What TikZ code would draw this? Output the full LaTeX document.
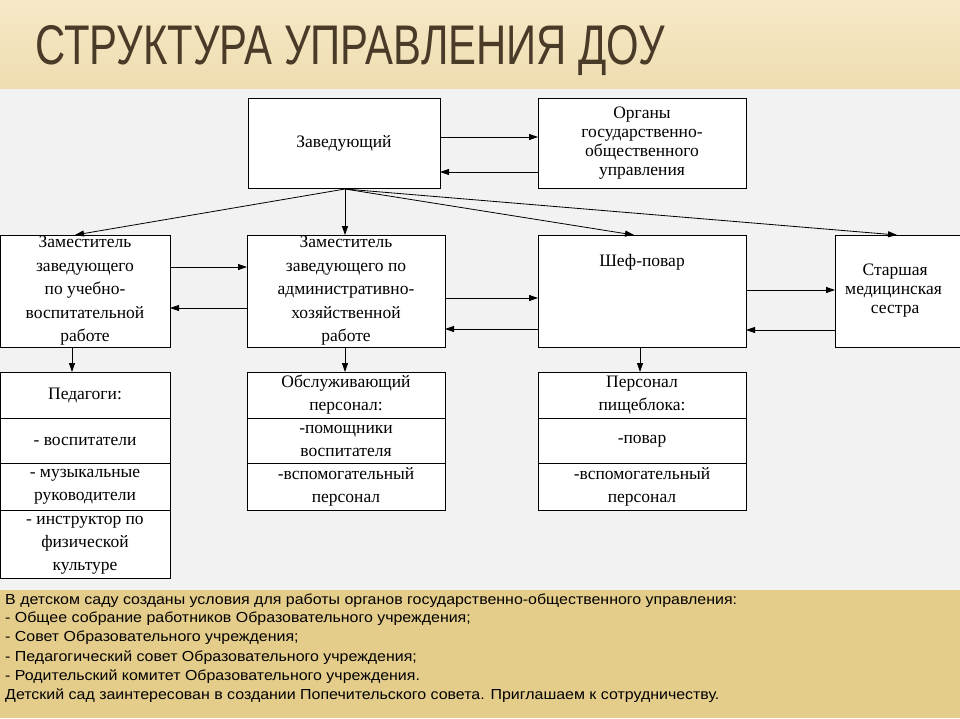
\documentclass[tikz,border=0pt]{standalone}
\usepackage{fontspec}
\setmainfont{Liberation Serif}
\newfontfamily\sansf{Liberation Sans}
\usetikzlibrary{arrows.meta}
\definecolor{bandtop}{HTML}{F6E9C8}
\definecolor{bandbot}{HTML}{EFDDB0}
\definecolor{gold}{HTML}{E4CC8A}
\definecolor{titlec}{HTML}{4A3A28}
\begin{document}
\begin{tikzpicture}[x=1pt,y=-1pt,
  bx/.style={draw=black,line width=0.8pt,fill=white},
  tx/.style={font=\fontsize{17.5}{19}\selectfont,align=center,inner sep=0pt},
  t2/.style={tx,font=\fontsize{17.5}{23}\selectfont},
  ar/.style={-{Triangle[length=9pt,width=6pt]},line width=0.8pt},
  bt/.style={font=\sansf\fontsize{14.5}{16}\selectfont,anchor=west,inner sep=0pt,xscale=1.1}]
\useasboundingbox (0,0) rectangle (960,718);
\clip (0,0) rectangle (960,718);
\fill[white!95!black] (0,0) rectangle (960,718);
\shade[top color=bandtop,bottom color=bandbot] (0,0) rectangle (960,88);
\node[anchor=north west,inner sep=0pt,text=titlec] (title) at (35,25) {\resizebox{630pt}{39pt}{\sansf СТРУКТУРА УПРАВЛЕНИЯ ДОУ}};
% boxes
\draw[bx] (248,98) rectangle (440,188);
\draw[bx] (538,98) rectangle (746,188);
\draw[bx] (0,235) rectangle (170,347);
\draw[bx] (247,235) rectangle (445,347);
\draw[bx] (538,235) rectangle (746,347);
\draw[bx] (835,235) rectangle (970,347);
\draw[bx] (0,372) rectangle (170,578);
\draw[line width=0.8pt] (0,418)--(170,418) (0,463)--(170,463) (0,510)--(170,510);
\draw[bx] (247,372) rectangle (445,510);
\draw[line width=0.8pt] (247,418)--(445,418) (247,463)--(445,463);
\draw[bx] (538,372) rectangle (746,510);
\draw[line width=0.8pt] (538,418)--(746,418) (538,463)--(746,463);
% texts
\node[tx] (t1) at (344,143) {Заведующий};
\node[tx] (t2) at (642,143) {Органы\\государственно-\\общественного\\управления};
\node[tx,font=\fontsize{17.5}{23.5}\selectfont] (t3) at (85,291) {Заместитель\\заведующего\\по учебно-\\воспитательной\\работе};
\node[tx,font=\fontsize{17.5}{23.5}\selectfont] (t4) at (346,291) {Заместитель\\заведующего по\\административно-\\хозяйственной\\работе};
\node[tx] (t5) at (642,262) {Шеф-повар};
\node[tx,anchor=west] (t6) at (845,291) {\hspace{3pt}Старшая\\медицинская\\\hspace{3pt}сестра};
\node[tx] (p1) at (85,395) {Педагоги:};
\node[tx] (p2) at (85,441) {- воспитатели};
\node[t2] (p3) at (85,487) {- музыкальные\\руководители};
\node[t2] (p4) at (85,545) {- инструктор по\\физической\\культуре};
\node[t2] (o1) at (346,395) {Обслуживающий\\персонал:};
\node[t2] (o2) at (346,441) {-помощники\\воспитателя};
\node[t2] (o3) at (346,487) {-вспомогательный\\персонал};
\node[t2] (k1) at (642,395) {Персонал\\пищеблока:};
\node[tx] (k2) at (642,441) {-повар};
\node[t2] (k3) at (642,487) {-вспомогательный\\персонал};
% arrows
\coordinate (src) at (345,189);
\draw[ar] (src) -- (75,235);
\draw[ar] (src) -- (345,235);
\draw[ar] (src) -- (634,235);
\draw[ar] (src) -- (897,235);
\draw[ar] (440,137) -- (538,137);
\draw[ar] (538,172) -- (440,172);
\draw[ar] (170,267) -- (247,267);
\draw[ar] (247,308) -- (170,308);
\draw[ar] (445,298) -- (538,298);
\draw[ar] (538,329) -- (445,329);
\draw[ar] (746,290) -- (835,290);
\draw[ar] (835,330) -- (746,330);
\draw[ar] (72,347) -- (72,372);
\draw[ar] (345,347) -- (345,372);
\draw[ar] (640,347) -- (640,372);
% bottom band
\fill[gold] (0,590) rectangle (960,718);
\node[bt] (b1) at (5,601) {В детском саду созданы условия для работы органов государственно-общественного управления:};
\node[bt] (b2) at (5,619) {- Общее собрание работников Образовательного учреждения;};
\node[bt] (b3) at (5,638) {- Совет Образовательного учреждения;};
\node[bt] (b4) at (5,658) {- Педагогический совет Образовательного учреждения;};
\node[bt] (b5) at (5,677) {- Родительский комитет Образовательного учреждения.};
\node[bt] (b6) at (5,696) {Детский сад заинтересован в создании Попечительского совета. Приглашаем к сотрудничеству.};
\end{tikzpicture}
\end{document}
